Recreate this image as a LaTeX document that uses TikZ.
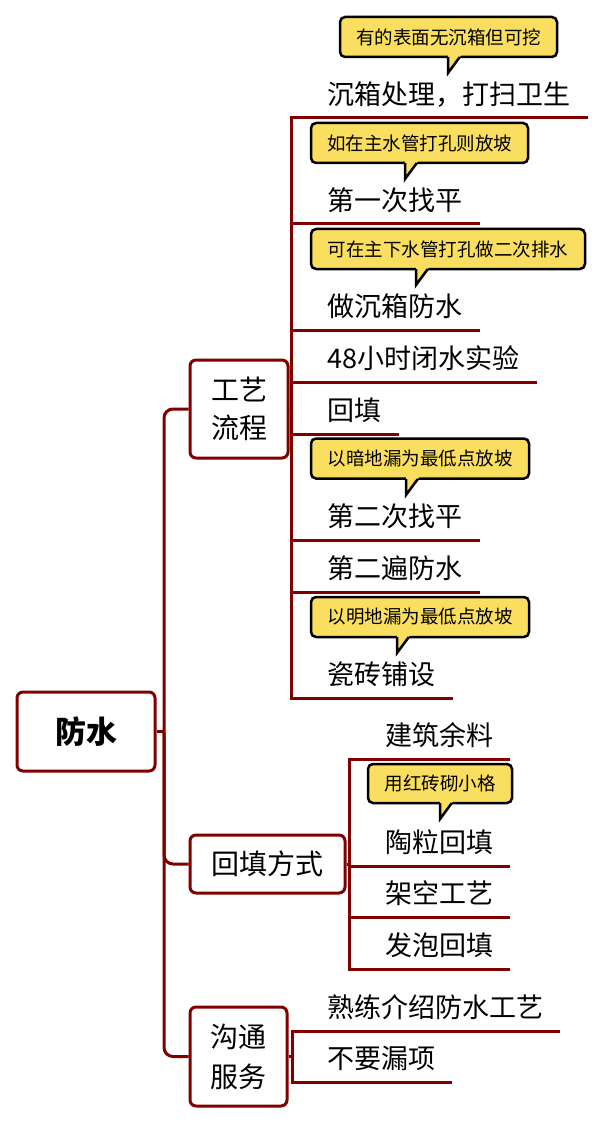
\documentclass[tikz,border=0pt]{standalone}
\usepackage{fontspec}
\setmainfont{Noto Sans CJK SC}
\definecolor{branchred}{RGB}{128,0,0}
\definecolor{notebg}{RGB}{250,222,95}
\tikzset{
  topicbox/.style={draw=branchred, line width=3pt, rounded corners=6pt, fill=white, align=center, inner sep=0pt},
  subtopic/.style={anchor=south west, inner sep=0pt, text depth=13pt, font=\fontsize{27}{30}\selectfont},
  trunk/.style={draw=branchred, line width=3pt, rounded corners=9pt},
  branch/.style={draw=branchred, line width=3pt},
  note/.style={draw=black, fill=notebg, line width=2.5pt, rounded corners=5pt, inner sep=0pt, minimum height=40pt, font=\fontsize{18.5}{20}\selectfont},
  notetail/.style={fill=notebg},
  notepen/.style={draw=black, line width=2.5pt, line join=miter}
}
\begin{document}
\begin{tikzpicture}[x=1pt,y=-1pt]
\path[fill=white] (0,0) rectangle (605,1123);
\useasboundingbox (0,0) rectangle (605,1123);
\node [topicbox, minimum width=138pt, minimum height=79pt, font=\fontsize{31}{34}\selectfont\bfseries] (root) at (86,731.5) {防水};
\node [topicbox, minimum width=98pt, minimum height=98pt, font=\fontsize{28}{38}\selectfont] (g1) at (239,409) {工艺\\流程};
\node [topicbox, minimum width=155pt, minimum height=58pt, font=\fontsize{28}{38}\selectfont] (g2) at (267.5,864) {回填方式};
\node [topicbox, minimum width=97pt, minimum height=99pt, font=\fontsize{28}{40}\selectfont] (g3) at (238.5,1056.5) {沟通\\服务};
\coordinate (rootr) at (164,731.5);
\coordinate (j1) at (291,409);
\coordinate (j2) at (349,864);
\coordinate (j3) at (292,1056.5);
%
\node [subtopic] (s1) at (327,118) {沉箱处理，打扫卫生};
\node [subtopic] (s2) at (327,224) {第一次找平};
\node [subtopic] (s3) at (327,330) {做沉箱防水};
\node [subtopic] (s4) at (327,382) {48小时闭水实验};
\node [subtopic] (s5) at (327,434) {回填};
\node [subtopic] (s6) at (327,540) {第二次找平};
\node [subtopic] (s7) at (327,592) {第二遍防水};
\node [subtopic] (s8) at (327,698) {瓷砖铺设};
\node [subtopic] (r1) at (385,759) {建筑余料};
\node [subtopic] (r2) at (385,866) {陶粒回填};
\node [subtopic] (r3) at (385,917) {架空工艺};
\node [subtopic] (r4) at (385,969) {发泡回填};
\node [subtopic] (m1) at (327,1031) {熟练介绍防水工艺};
\node [subtopic] (m2) at (327,1082) {不要漏项};
%
\draw [trunk] (root.east) -- (rootr);
\draw [trunk] (rootr) |- (g1.west);
\draw [trunk] (rootr) |- (g2.west);
\draw [trunk] (rootr) |- (g3.west);
%
\foreach \s in {s1,s2,s3,s4,s5,s6,s7,s8}
  \draw [branch] (g1.east) -- (j1) |- ([xshift=18pt]\s.south east);
\foreach \s in {r1,r2,r3,r4}
  \draw [branch] (g2.east) -- (j2) |- ([xshift=17pt]\s.south east);
\foreach \s in {m1,m2}
  \draw [branch] (g3.east) -- (j3) |- ([xshift=17pt]\s.south east);
%
\node [note, minimum width=217pt] (n1) at (448.5,37) {有的表面无沉箱但可挖};
\node [note, minimum width=217pt] (n2) at (419.5,143) {如在主水管打孔则放坡};
\node [note, minimum width=274pt] (n3) at (448,249) {可在主下水管打孔做二次排水};
\node [note, minimum width=218pt] (n4) at (420,458.5) {以暗地漏为最低点放坡};
\node [note, minimum width=218pt] (n5) at (420,617) {以明地漏为最低点放坡};
\node [note, minimum width=144pt, minimum height=39pt] (n6) at (440,783.5) {用红砖砌小格};
\coordinate (t1) at (448,73);
\coordinate (t2) at (405,179);
\coordinate (t3) at (416,285);
\coordinate (t4) at (406,495);
\coordinate (t5) at (397,653);
\coordinate (t6) at (440,819);
\foreach \t in {t1,t2,t3,t4,t5,t6} {
  \fill [notetail] (\t) -- ++(0,-19) -- ++(14,0) -- cycle;
  \draw [notepen] (\t) ++(0,-16) -- (\t) -- ++(11.8,-16);
}
\end{tikzpicture}
\end{document}
